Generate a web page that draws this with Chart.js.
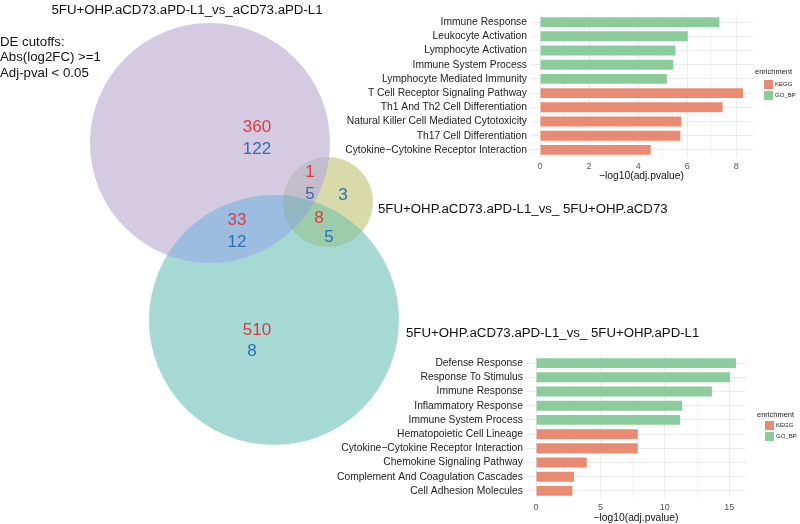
<!DOCTYPE html>
<html>
<head>
<meta charset="utf-8">
<script src="https://cdn.jsdelivr.net/npm/chart.js@4"></script>
<style>
  body { margin: 0; background: #fff; font-family: "Liberation Sans", Arial, sans-serif; }
  #wrap { position: relative; width: 800px; height: 524px; overflow: hidden; }
  canvas { position: absolute; }
  .lg { position: absolute; color: #222; white-space: nowrap; }
  .key { position: absolute; width: 9px; height: 9px; }
</style>
</head>
<body>
<div id="wrap">
  <canvas id="venn" width="800" height="524" style="left:0;top:0"></canvas>
  <canvas id="topChart" width="430" height="184" style="left:330px;top:0"></canvas>
  <canvas id="bottomChart" width="430" height="184" style="left:330px;top:340px"></canvas>

  <div class="lg" style="left:755px;top:67px;font-size:7.5px">enrichment</div>
  <div class="key" style="left:764px;top:80px;background:#E88B72"></div>
  <div class="key" style="left:764px;top:91px;background:#8CCB9C"></div>
  <div class="lg" style="left:775px;top:81px;font-size:6px">KEGG</div>
  <div class="lg" style="left:775px;top:92px;font-size:6px">GO_BP</div>

  <div class="lg" style="left:757px;top:410px;font-size:7.5px">enrichment</div>
  <div class="key" style="left:765px;top:421px;background:#E88B72"></div>
  <div class="key" style="left:765px;top:432px;background:#8CCB9C"></div>
  <div class="lg" style="left:776px;top:422px;font-size:6px">KEGG</div>
  <div class="lg" style="left:776px;top:433px;font-size:6px">GO_BP</div>
</div>
<script>
Chart.defaults.font.family = '"Liberation Sans", Arial, sans-serif';

// ---- Venn: sets, circle layout, region counts ----
const setNames = [
  '5FU+OHP.aCD73.aPD-L1_vs_aCD73.aPD-L1',
  '5FU+OHP.aCD73.aPD-L1_vs_ 5FU+OHP.aCD73',
  '5FU+OHP.aCD73.aPD-L1_vs_ 5FU+OHP.aPD-L1'
];
const circleX = [210, 328, 274];
const circleY = [143, 202, 320];
const circleR = [120, 45, 125];

// regions: A, B, C, AB, AC, BC, ABC
const regionSets = [[0], [1], [2], [0, 1], [0, 2], [1, 2], [0, 1, 2]];
const upCounts   = [360, null, 510, 1, 33, 8, null];
const downCounts = [122, 3, 8, 5, 12, 5, null];
const upPosX   = [257, null, 257, 310, 237, 319, null];
const upPosY   = [127, null, 330, 172, 220, 218, null];
const downPosX = [257, 343, 252, 310, 237, 329, null];
const downPosY = [149, 195, 351, 194, 242, 237, null];

const cutoffText = ['DE cutoffs:', 'Abs(log2FC) >=1', 'Adj-pval < 0.05'];

// ---- enrichment bars ----
const topTerms = ['Immune Response', 'Leukocyte Activation', 'Lymphocyte Activation',
  'Immune System Process', 'Lymphocyte Mediated Immunity', 'T Cell Receptor Signaling Pathway',
  'Th1 And Th2 Cell Differentiation', 'Natural Killer Cell Mediated Cytotoxicity',
  'Th17 Cell Differentiation', 'Cytokine\u2212Cytokine Receptor Interaction'];
const topGO   = [7.31, 6.02, 5.52, 5.43, 5.17, null, null, null, null, null];
const topKEGG = [null, null, null, null, null, 8.27, 7.44, 5.76, 5.72, 4.51];
const topMajorTicks = [0, 2, 4, 6, 8];
const topMinorTicks = [1, 3, 5, 7];

const bottomTerms = ['Defense Response', 'Response To Stimulus', 'Immune Response',
  'Inflammatory Response', 'Immune System Process', 'Hematopoietic Cell Lineage',
  'Cytokine\u2212Cytokine Receptor Interaction', 'Chemokine Signaling Pathway',
  'Complement And Coagulation Cascades', 'Cell Adhesion Molecules'];
const bottomGO   = [15.52, 15.05, 13.65, 11.35, 11.19, null, null, null, null, null];
const bottomKEGG = [null, null, null, null, null, 7.90, 7.90, 3.94, 2.95, 2.82];
const bottomMajorTicks = [0, 5, 10, 15];
const bottomMinorTicks = [2.5, 7.5, 12.5];

// colours
const regionColors = ['#D4CAE2', '#D8DBA9', '#A6D8D4', '#C2BCCB', '#9DBDE0', '#9CCCAA', '#93B7C0'];
const upColor = '#D93A44';
const downColor = '#2F6DB5';

// draws the circles region by region, then the labels
const vennPlugin = {
  id: 'venn',
  beforeDatasetsDraw(chart) {
    const { ctx, scales: { x, y } } = chart;
    const circles = circleX.map((cx, i) => {
      const p = new Path2D();
      const px = x.getPixelForValue(cx);
      p.arc(px, y.getPixelForValue(circleY[i]), x.getPixelForValue(cx + circleR[i]) - px, 0, Math.PI * 2);
      return p;
    });
    regionSets.forEach((set, k) => {
      ctx.save();
      set.forEach(i => ctx.clip(circles[i]));
      ctx.fillStyle = regionColors[k];
      ctx.fillRect(0, 0, chart.width, chart.height);
      ctx.restore();
    });
  },
  afterDatasetsDraw(chart) {
    const { ctx, scales: { x, y } } = chart;
    ctx.save();
    ctx.textBaseline = 'middle';
    ctx.font = '17px "Liberation Sans", Arial, sans-serif';
    ctx.textAlign = 'center';
    regionSets.forEach((s, k) => {
      if (upCounts[k] != null) {
        ctx.fillStyle = upColor;
        ctx.fillText(upCounts[k], x.getPixelForValue(upPosX[k]), y.getPixelForValue(upPosY[k]));
      }
      if (downCounts[k] != null) {
        ctx.fillStyle = downColor;
        ctx.fillText(downCounts[k], x.getPixelForValue(downPosX[k]), y.getPixelForValue(downPosY[k]));
      }
    });
    ctx.fillStyle = '#111';
    ctx.font = '13.25px "Liberation Sans", Arial, sans-serif';
    ctx.fillText(setNames[0], x.getPixelForValue(187), y.getPixelForValue(10));
    ctx.textAlign = 'left';
    ctx.fillText(setNames[1], x.getPixelForValue(378), y.getPixelForValue(209));
    ctx.fillText(setNames[2], x.getPixelForValue(406), y.getPixelForValue(333));
    cutoffText.forEach((t, i) => ctx.fillText(t, x.getPixelForValue(0), y.getPixelForValue(42 + i * 15.5)));
    ctx.restore();
  }
};

new Chart(document.getElementById('venn'), {
  type: 'scatter',
  data: { datasets: [{ data: circleX.map((cx, i) => ({ x: cx, y: circleY[i] })), pointRadius: 0 }] },
  options: {
    responsive: false,
    animation: false,
    layout: { padding: 0 },
    plugins: { legend: { display: false }, tooltip: { enabled: false } },
    scales: {
      x: { type: 'linear', min: 0, max: 800, display: false },
      y: { type: 'linear', min: 0, max: 524, reverse: true, display: false }
    }
  },
  plugins: [vennPlugin]
});

function makeBars(id, terms, kegg, go, major, minor, xMin, xMax, yWidth, pad) {
  const ticks = major.concat(minor).sort((a, b) => a - b);
  return new Chart(document.getElementById(id), {
    type: 'bar',
    data: {
      labels: terms,
      datasets: [
        { label: 'KEGG', data: kegg, backgroundColor: '#E88B72' },
        { label: 'GO_BP', data: go, backgroundColor: '#8CCB9C' }
      ]
    },
    options: {
      indexAxis: 'y',
      responsive: false,
      animation: false,
      barPercentage: 0.7,
      categoryPercentage: 1.0,
      layout: { padding: { top: pad.top, right: pad.right, left: 0, bottom: 0 } },
      plugins: { legend: { display: false }, tooltip: { enabled: false } },
      scales: {
        x: {
          stacked: true,
          min: xMin,
          max: xMax,
          afterBuildTicks: s => { s.ticks = ticks.map(v => ({ value: v })); },
          afterFit: s => { s.height = pad.xHeight; },
          border: { display: false },
          grid: {
            drawTicks: false,
            color: c => major.includes(c.tick.value) ? '#EBEBEB' : '#F5F5F5'
          },
          ticks: {
            padding: 4,
            color: '#555',
            font: { size: 9 },
            callback: v => major.includes(v) ? v : ''
          },
          title: {
            display: true,
            text: '\u2212log10(adj.pvalue)',
            color: '#111',
            font: { size: 10.3 },
            padding: { top: 0, bottom: pad.titleBottom }
          }
        },
        y: {
          stacked: true,
          afterFit: s => { s.width = yWidth; },
          border: { display: false },
          grid: { drawTicks: false, offset: false, color: '#EBEBEB' },
          ticks: { padding: 3, color: '#222', font: { size: 10.3 }, autoSkip: false }
        }
      }
    }
  });
}

makeBars('topChart', topTerms, topKEGG, topGO, topMajorTicks, topMinorTicks,
  -0.41, 8.68, 200, { top: 15, right: 7, xHeight: 27, titleBottom: 1.5 });
makeBars('bottomChart', bottomTerms, bottomKEGG, bottomGO, bottomMajorTicks, bottomMinorTicks,
  -0.78, 16.3, 196, { top: 16, right: 14, xHeight: 26, titleBottom: 0 });
</script>
</body>
</html>
